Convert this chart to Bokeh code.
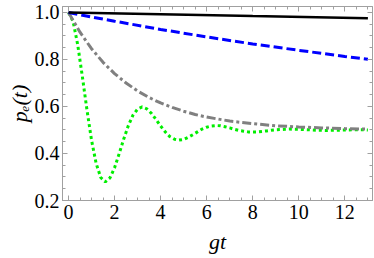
from bokeh.plotting import figure
from bokeh.models import (LinearAxis, SingleIntervalTicker, PrintfTickFormatter,
                          Range1d)
from bokeh.embed import file_html
from bokeh.resources import INLINE

# ---- data ----
x_black = [0.0, 4.0, 8.0, 13.0]
y_black = [1.0, 0.993, 0.985, 0.976]

x_blue = [0.0, 1.0, 2.0, 4.0, 6.0, 8.0, 10.0, 12.0, 13.0]
y_blue = [1.0, 0.981, 0.963, 0.928, 0.896, 0.866, 0.839, 0.813, 0.801]

x_gray = [0.0, 0.5, 1.0, 1.5, 2.0, 2.5, 3.0, 3.5, 4.0, 4.5, 5.0, 5.5, 6.0,
          7.0, 8.0, 9.0, 10.0, 11.0, 12.0, 13.0]
y_gray = [1.0, 0.916, 0.846, 0.788, 0.740, 0.700, 0.666, 0.638, 0.615, 0.596,
          0.580, 0.566, 0.555, 0.538, 0.527, 0.518, 0.513, 0.509, 0.506, 0.504]

x_green = [0.0, 0.2, 0.4, 0.6, 0.8, 1.0, 1.2, 1.4, 1.6, 1.8, 2.0, 2.2, 2.4,
           2.6, 2.8, 3.0, 3.2, 3.4, 3.6, 3.8, 4.0, 4.2, 4.4, 4.6, 4.8, 5.0,
           5.2, 5.4, 5.6, 5.8, 6.0, 6.2, 6.4, 6.6, 6.8, 7.0, 7.2, 7.4, 7.6,
           7.8, 8.0, 8.2, 8.4, 8.6, 8.8, 9.0, 9.2, 9.4, 9.6, 9.8, 10.0, 10.4,
           10.8, 11.2, 11.6, 12.0, 12.4, 12.8, 13.0]
y_green = [1.0, 0.962, 0.863, 0.729, 0.587, 0.457, 0.358, 0.298, 0.279, 0.296,
           0.339, 0.399, 0.462, 0.519, 0.563, 0.589, 0.598, 0.590, 0.571, 0.545,
           0.517, 0.492, 0.472, 0.461, 0.457, 0.460, 0.469, 0.480, 0.492, 0.504,
           0.512, 0.517, 0.519, 0.518, 0.514, 0.509, 0.503, 0.498, 0.495, 0.492,
           0.492, 0.492, 0.494, 0.496, 0.499, 0.501, 0.502, 0.503, 0.504, 0.503,
           0.503, 0.501, 0.499, 0.498, 0.499, 0.500, 0.501, 0.501, 0.500]

x_tick_step = 2
y_tick_step = 0.2
x_title = "gt"
y_title = "p\u2091(t)"

# ---- figure ----
X0, X1 = -0.26, 13.2
Y0, Y1 = 0.2, 1.0255
W, H = 374, 258
ML, MR, MT, MB = 62, 2, 6, 58

p = figure(width=W, height=H, output_backend="svg", toolbar_location=None,
           x_range=Range1d(X0, X1), y_range=Range1d(Y0, Y1),
           min_border_left=ML, min_border_right=MR, min_border_top=MT,
           min_border_bottom=MB, x_axis_type=None, y_axis_type=None)
p.xgrid.grid_line_color = None
p.ygrid.grid_line_color = None
p.outline_line_color = "#a0a0a0"
p.background_fill_color = "white"
p.border_fill_color = "white"

FONT = "Liberation Serif"
FS = "20px"
AX_COL = "#a0a0a0"

xt = SingleIntervalTicker(interval=x_tick_step, num_minor_ticks=4)
yt = SingleIntervalTicker(interval=y_tick_step, num_minor_ticks=4)


def style(ax, labels=True):
    ax.axis_line_color = AX_COL
    ax.major_tick_line_color = AX_COL
    ax.minor_tick_line_color = AX_COL
    ax.major_tick_in = 5
    ax.major_tick_out = 0
    ax.minor_tick_in = 3
    ax.minor_tick_out = 0
    ax.major_label_text_font = FONT
    ax.major_label_text_color = "black"
    ax.axis_label_text_font = FONT
    ax.axis_label_text_font_style = "italic"
    ax.axis_label_text_font_size = "22px"
    ax.axis_label_text_color = "black"
    if labels:
        ax.major_label_text_font_size = FS
    else:
        ax.major_label_text_font_size = "0px"
        ax.major_label_standoff = 0


bx = LinearAxis(ticker=xt, axis_label=x_title)
style(bx)
bx.major_label_standoff = 4
bx.axis_label_standoff = 7
p.add_layout(bx, "below")

ly = LinearAxis(ticker=yt, formatter=PrintfTickFormatter(format="%.1f"),
                axis_label=y_title)
style(ly)
ly.major_label_standoff = 3
ly.axis_label_standoff = 0
p.add_layout(ly, "left")

tx = LinearAxis(ticker=xt)
style(tx, labels=False)
p.add_layout(tx, "above")

ry = LinearAxis(ticker=yt)
style(ry, labels=False)
p.add_layout(ry, "right")

# curves
p.line(x_green, y_green, line_color="#00ee00", line_width=3,
       line_dash="3 3", line_cap="butt")
p.line(x_gray, y_gray, line_color="#808080", line_width=3,
       line_dash="9 3 3 3", line_cap="butt")
p.line(x_blue, y_blue, line_color="#0000ff", line_width=3,
       line_dash="9 4", line_cap="butt")
p.line(x_black, y_black, line_color="black", line_width=2.5)

open("out.html", "w").write(file_html(p, INLINE))
